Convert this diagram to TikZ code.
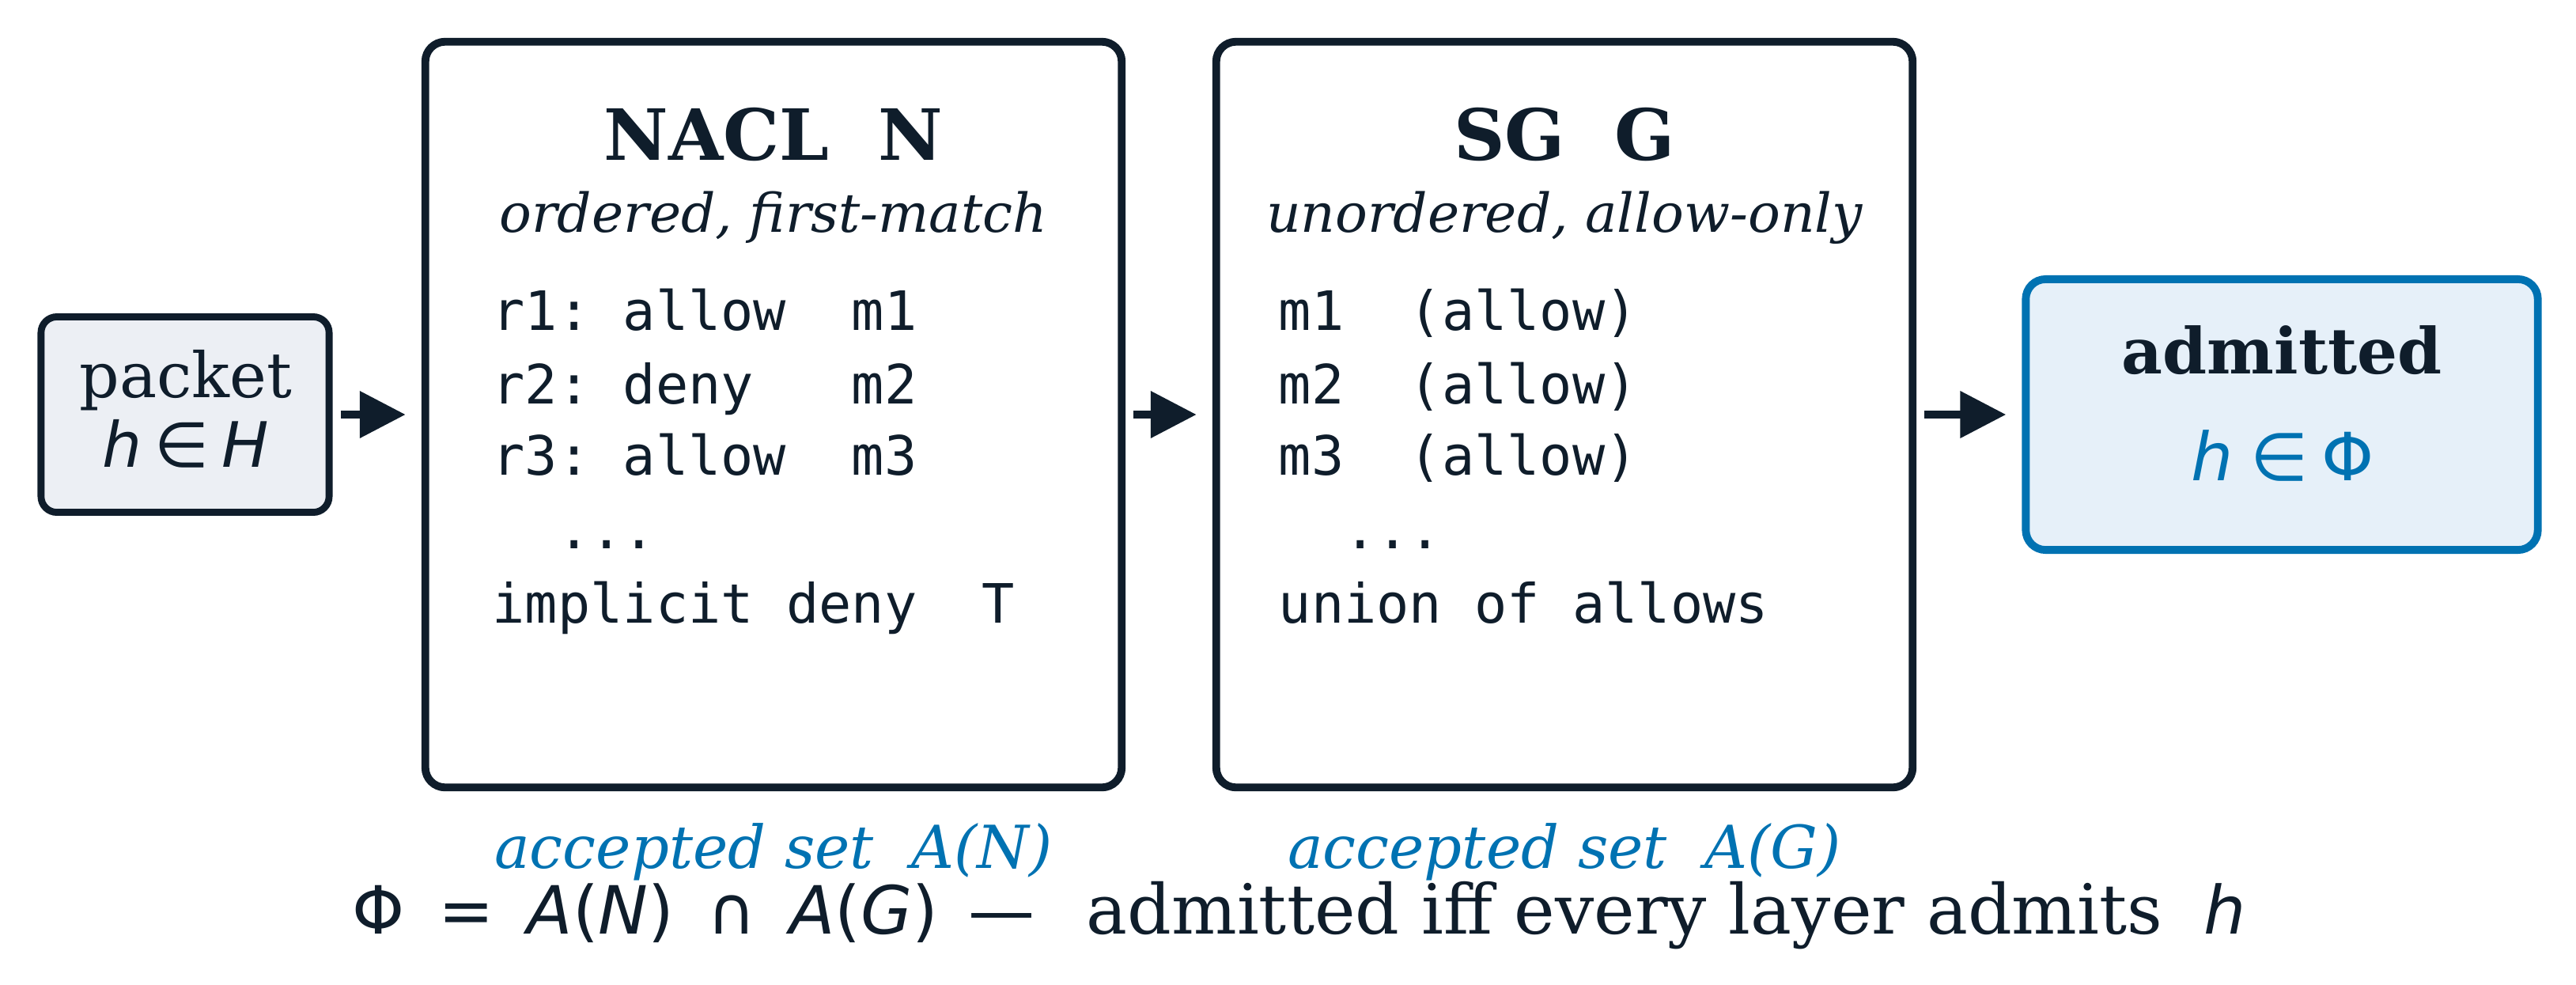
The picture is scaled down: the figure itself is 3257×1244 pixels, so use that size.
\documentclass[tikz,border=0pt]{standalone}
\usepackage{fontspec}
\setmainfont{DejaVu Serif}
\setmonofont{DejaVu Sans Mono}
\newfontfamily\dvsans{DejaVu Sans}
\usetikzlibrary{arrows.meta}

\definecolor{inkdark}{HTML}{0F1D2B}
\definecolor{acceptblue}{HTML}{0072B2}
\definecolor{packetfill}{HTML}{ECEFF4}
\definecolor{admitfill}{HTML}{E6F0F9}

\newcommand{\mvar}[1]{{\dvsans\itshape #1}}
\frenchspacing

\begin{document}
\begin{tikzpicture}[x=0.01cm, y=-0.01cm,
    >={Triangle[length=0.58cm, width=0.57cm]},
    stage/.style={draw=inkdark, line width=2.8pt, rounded corners=0.25cm,
        minimum width=8.8cm, minimum height=9.42cm, fill=white},
    flow/.style={->, inkdark, line width=3pt, shorten <=0.1cm, shorten >=0.2cm},
    title/.style={anchor=base, inner sep=0pt, text=inkdark,
        font=\fontsize{25.4}{30}\selectfont\bfseries},
    subtitle/.style={anchor=base, inner sep=0pt, text=inkdark,
        font=\fontsize{19.3}{23}\selectfont\itshape},
    rule/.style={anchor=base west, inner sep=0pt, text=inkdark,
        font=\fontsize{19.5}{23}\ttfamily},
    setlabel/.style={anchor=base, inner sep=0pt, text=acceptblue,
        font=\fontsize{21.3}{25}\selectfont\itshape}]
    \useasboundingbox (0,0) rectangle (3257,1244);

    % input packet and result
    \node[draw=inkdark, fill=packetfill, line width=2.5pt, rounded corners=0.2cm,
        minimum width=3.64cm, minimum height=2.47cm] (packet) at (234,524) {};
    \node[anchor=base, inner sep=0pt, text=inkdark, font=\fontsize{22.5}{26}\selectfont]
        (packetname) at (235,502) {packet};
    \node[anchor=base, inner sep=0pt, text=inkdark, font=\fontsize{22.5}{26}\dvsans]
        (packetset) at (235,590) {\mvar{h}\hspace{0.2em}∈\hspace{0.2em}\mvar{H}};

    \node[draw=acceptblue, fill=admitfill, line width=2.8pt, rounded corners=0.25cm,
        minimum width=6.47cm, minimum height=3.42cm] (admitted) at (2885,524) {};
    \node[anchor=base, inner sep=0pt, text=inkdark, font=\fontsize{22.8}{26}\selectfont\bfseries]
        (admittedname) at (2885,472) {admitted};
    \node[anchor=base, inner sep=0pt, text=acceptblue, font=\fontsize{23.9}{28}\dvsans]
        (admittedset) at (2886,607) {\mvar{h}\hspace{0.25em}∈\hspace{0.2em}Φ};

    % the two layers
    \node[stage] (nacl) at (978,524) {};
    \node[title] (nacltitle) at (978,202) {NACL\ \ N};
    \node[subtitle] (naclsub) at (978,293) {ordered, first-match};
    \node[rule] (r1) at (622,417) {r1:~allow~~m1};
    \node[rule] (r2) at (622,510) {r2:~deny~~~m2};
    \node[rule] (r3) at (622,600) {r3:~allow~~m3};
    \node[rule] (rdots) at (622,693) {~~...};
    \node[rule] (rimpl) at (622,787) {implicit~deny~~T};

    \node[stage] (sg) at (1978,524) {};
    \node[title] (sgtitle) at (1978,202) {SG\ \ G};
    \node[subtitle] (sgsub) at (1978,293) {unordered, allow-only};
    \node[rule] (m1) at (1616,417) {m1~~(allow)};
    \node[rule] (m2) at (1616,510) {m2~~(allow)};
    \node[rule] (m3) at (1616,600) {m3~~(allow)};
    \node[rule] (mdots) at (1616,693) {~~...};
    \node[rule] (munion) at (1616,787) {union~of~allows};

    \draw[flow] (packet.east) -- (nacl.west);
    \draw[flow] (nacl.east) -- (sg.west);
    \draw[flow] (sg.east) -- (admitted.west);

    % accepted sets and the summary line
    \node[setlabel] (naclset) at (978,1097) {accepted set\ \ A(N)};
    \node[setlabel] (sgset) at (1978,1097) {accepted set\ \ A(G)};
    \node[anchor=base, inner sep=0pt, text=inkdark, font=\fontsize{24.8}{28}\selectfont]
        (summary) at (1643,1180) {{\fontsize{23.9}{28}\dvsans Φ\hspace{0.5em}=\hspace{0.5em}\mvar{A}(\mvar{N})\hspace{0.5em}∩\hspace{0.5em}\mvar{A}(\mvar{G})\hspace{0.45em}—}\hspace{0.75em}admitted iff every layer admits\hspace{0.6em}{\fontsize{23.9}{28}\mvar{h}}};
\end{tikzpicture}
\end{document}
